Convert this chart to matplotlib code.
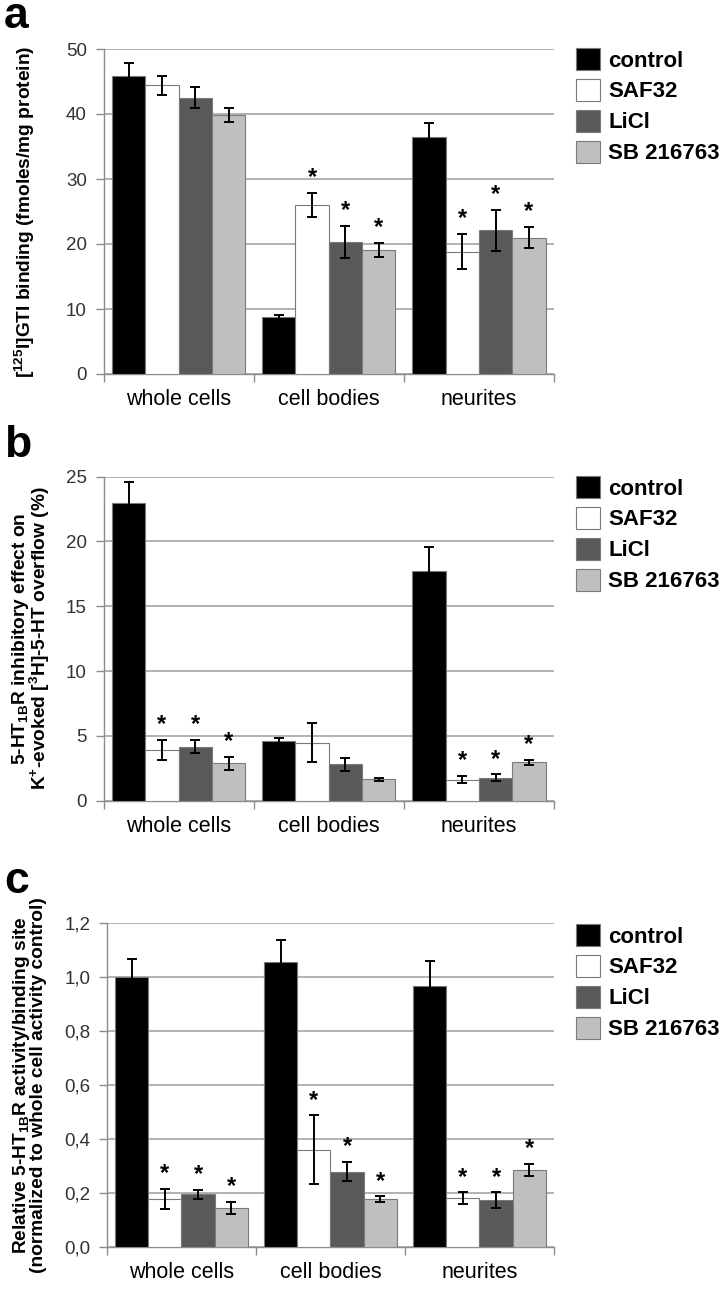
import matplotlib
matplotlib.use('Agg')
import matplotlib.pyplot as plt
import numpy as np
from matplotlib.patches import Patch
from matplotlib.transforms import offset_copy

plt.rcParams['font.family'] = ['Liberation Sans', 'DejaVu Sans']
plt.rcParams['mathtext.default'] = 'regular'

categories = ['whole cells', 'cell bodies', 'neurites']
treatments = ['control', 'SAF32', 'LiCl', 'SB 216763']
colors = ['#000000', '#ffffff', '#595959', '#bfbfbf']

# panel a: [125I]GTI binding
a_control = [45.8, 8.7, 36.5]
a_saf32 = [44.4, 26.05, 18.8]
a_licl = [42.5, 20.3, 22.1]
a_sb = [39.9, 19.1, 21.0]
a_control_err = [2.1, 0.4, 2.1]
a_saf32_err = [1.5, 1.85, 2.7]
a_licl_err = [1.6, 2.5, 3.1]
a_sb_err = [1.1, 1.1, 1.6]
a_stars = [[0, 0, 0], [0, 1, 1], [0, 1, 1], [0, 1, 1]]

# panel b: inhibitory effect
b_control = [23.0, 4.6, 17.75]
b_saf32 = [3.9, 4.47, 1.62]
b_licl = [4.17, 2.8, 1.77]
b_sb = [2.88, 1.65, 2.96]
b_control_err = [1.57, 0.25, 1.8]
b_saf32_err = [0.78, 1.5, 0.28]
b_licl_err = [0.5, 0.5, 0.26]
b_sb_err = [0.5, 0.1, 0.18]
b_stars = [[0, 0, 0], [1, 0, 1], [1, 0, 1], [1, 0, 1]]

# panel c: relative activity / binding site
c_control = [1.0, 1.056, 0.967]
c_saf32 = [0.177, 0.359, 0.18]
c_licl = [0.194, 0.278, 0.173]
c_sb = [0.143, 0.175, 0.284]
c_control_err = [0.067, 0.08, 0.092]
c_saf32_err = [0.037, 0.127, 0.021]
c_licl_err = [0.017, 0.035, 0.028]
c_sb_err = [0.022, 0.011, 0.022]
c_stars = [[0, 0, 0], [1, 1, 1], [1, 1, 1], [1, 1, 1]]

a_ticks = [0, 10, 20, 30, 40, 50]
b_ticks = [0, 5, 10, 15, 20, 25]
c_ticks = [0.0, 0.2, 0.4, 0.6, 0.8, 1.0, 1.2]
c_ticklabels = ['0,0', '0,2', '0,4', '0,6', '0,8', '1,0', '1,2']

W, H = 721, 1291
fig = plt.figure(figsize=(W / 100, H / 100), dpi=100)

GRID = '#a6a6a6'
SPINE = '#8c8c8c'


def fx(px):
    return px / W


def fy(px):
    return 1 - px / H


def panel(rect, means, errs, stars, ticks, ticklabels, ylabel, label_x,
          letter, letter_y, legend_top):
    left, top, right, bottom = rect
    ax = fig.add_axes([fx(left), fy(bottom), fx(right - left), (bottom - top) / H])
    x = np.arange(len(categories))
    width = 0.222
    ymax = ticks[-1]
    star_tr = offset_copy(ax.transData, fig=fig, y=-9.5, units='points')
    for i, (m, e) in enumerate(zip(means, errs)):
        pos = x + (i - 1.5) * width
        ax.bar(pos, m, width, color=colors[i], edgecolor='#7a7a7a', linewidth=0.8,
               zorder=3, label=treatments[i])
        ax.errorbar(pos, m, yerr=e, fmt='none', ecolor='black', elinewidth=1.4,
                    capsize=3.5, capthick=1.4, zorder=4)
        for j in range(len(categories)):
            if stars[i][j]:
                ax.text(pos[j], m[j] + e[j] + 0.068 * ymax, '*', ha='center',
                        va='baseline', fontsize=17, fontweight='bold',
                        transform=star_tr, zorder=5)
    ax.set_xlim(-0.5, 2.5)
    ax.set_ylim(0, ymax)
    ax.set_yticks(ticks)
    ax.set_yticklabels(ticklabels)
    ax.yaxis.grid(True, color=GRID, linewidth=1.2, zorder=0)
    ax.set_axisbelow(True)
    ax.set_xticks(x)
    ax.set_xticklabels(categories, fontsize=15.5)
    ax.set_xticks([-0.5, 0.5, 1.5, 2.5], minor=True)
    ax.tick_params(axis='x', which='major', length=0, pad=11)
    ax.tick_params(axis='x', which='minor', length=6, width=1, color=SPINE)
    ax.tick_params(axis='y', length=6, width=1, color=SPINE, labelsize=13.5,
                   labelcolor='#333333', pad=6)
    for s in ['top', 'right']:
        ax.spines[s].set_visible(False)
    for s in ['left', 'bottom']:
        ax.spines[s].set_color(SPINE)
        ax.spines[s].set_linewidth(1)
    fig.text(fx(label_x), fy((top + bottom) / 2), ylabel, rotation=90,
             ha='center', va='center', fontsize=13.8, fontweight='bold',
             multialignment='center', linespacing=0.85)
    fig.text(fx(4), fy(letter_y), letter, fontsize=32, fontweight='bold',
             va='baseline', ha='left')
    handles = [Patch(facecolor=c, edgecolor='#7a7a7a', linewidth=0.8) for c in colors]
    ax.legend(handles, treatments, loc='upper left',
              bbox_to_anchor=(fx(576), fy(legend_top)), bbox_transform=fig.transFigure,
              frameon=False, borderpad=0, borderaxespad=0, handlelength=1.1,
              handleheight=1.15, handletextpad=0.35, labelspacing=0.33,
              prop={'weight': 'bold', 'size': 16})
    return ax


panel((103.5, 49, 554, 374),
      [a_control, a_saf32, a_licl, a_sb],
      [a_control_err, a_saf32_err, a_licl_err, a_sb_err],
      a_stars, a_ticks, [str(t) for t in a_ticks],
      r'[$^{125}$I]GTI binding (fmoles/mg protein)', 25, 'a', 28, 48)

panel((103.5, 476.7, 554, 800.7),
      [b_control, b_saf32, b_licl, b_sb],
      [b_control_err, b_saf32_err, b_licl_err, b_sb_err],
      b_stars, b_ticks, [str(t) for t in b_ticks],
      '5-HT$_{1B}$R inhibitory effect on\nK$^{+}$-evoked [$^{3}$H]-5-HT overflow (%)',
      31, 'b', 457, 476)

panel((107, 922.7, 554, 1246.7),
      [c_control, c_saf32, c_licl, c_sb],
      [c_control_err, c_saf32_err, c_licl_err, c_sb_err],
      c_stars, c_ticks, c_ticklabels,
      'Relative 5-HT$_{1B}$R activity/binding site\n(normalized to whole cell activity control)',
      29, 'c', 893, 924)

fig.savefig('out.png', dpi=100)
